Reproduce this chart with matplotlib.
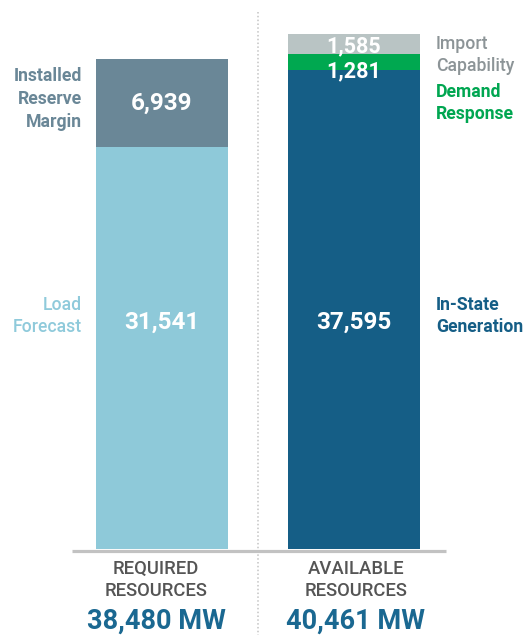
import matplotlib
matplotlib.use("Agg")
import matplotlib.pyplot as plt

# data (MW)
categories = ["REQUIRED\nRESOURCES", "AVAILABLE\nRESOURCES"]
required_names = ["Load\nForecast", "Installed\nReserve\nMargin"]
required_vals = [31541, 6939]
available_names = ["In-State\nGeneration", "Demand\nResponse", "Import\nCapability"]
available_vals = [37595, 1281, 1585]

req_colors = ["#8ec9d9", "#6a8797"]
req_text = ["#8fcadb", "#6a8797"]
av_colors = ["#155e86", "#00a850", "#b9c4c4"]
av_text = ["#155e86", "#00a651", "#8c9497"]

W, H = 526, 635
BASE = 549                      # baseline pixel row
PX_PER_MW = 490 / sum(required_vals)

def mw(py):
    """pixel row -> data y"""
    return (BASE - py) / PX_PER_MW

plt.rcParams["font.family"] = ["Roboto", "DejaVu Sans"]
fig = plt.figure(figsize=(W / 100, H / 100), dpi=100)
ax = fig.add_axes([0, (H - BASE) / H, 1, BASE / H])
ax.set_xlim(-162 / 192, 1 + (W - 354) / 192)
ax.set_ylim(0, mw(0))
ax.axis("off")
bw = 132 / 192

# stacked bars
bottom = 0
for v, c in zip(required_vals, req_colors):
    ax.bar(0, v, bw, bottom=bottom, color=c, zorder=2)
    bottom += v
bottom = 0
for v, c in zip(available_vals, av_colors):
    ax.bar(1, v, bw, bottom=bottom, color=c, zorder=2)
    bottom += v

# baseline + separator
ax.plot([(72 - 162) / 192, (446 - 162) / 192], [mw(550.5)] * 2, color="#c2c2c2",
        lw=2.3, solid_capstyle="butt", clip_on=False, zorder=3)
ax.plot([0.5, 0.5], [mw(12), mw(H)], color="#c4c4c4", lw=1.1, ls=(0, (1, 1.5)),
        clip_on=False, zorder=1)

# values inside bars
vfs = 17.5
ax.text(0, required_vals[0] + required_vals[1] / 2, f"{required_vals[1]:,}", ha="center",
        va="center", color="white", fontsize=vfs, fontweight="bold", zorder=4)
ax.text(0, mw(322), f"{required_vals[0]:,}", ha="center", va="center", color="white",
        fontsize=vfs, fontweight="bold", zorder=4)
ax.text(1, mw(322), f"{available_vals[0]:,}", ha="center", va="center", color="white",
        fontsize=vfs, fontweight="bold", zorder=4)
ax.text(1, mw(46), f"{available_vals[2]:,}", ha="center", va="center", color="white",
        fontsize=15.5, fontweight="bold", zorder=4)
ax.text(1, mw(71), f"{available_vals[1]:,}", ha="center", va="center", color="white",
        fontsize=15.5, fontweight="bold", zorder=4)

# side labels
lx_left = (82 - 162) / 192
lx_right = (436 - 162) / 192
lfs = 12.7
ls = 1.33
ax.text(lx_left, mw(99), required_names[1], ha="right", va="center", color=req_text[1],
        fontsize=lfs, fontweight="bold", linespacing=ls)
ax.text(lx_left, mw(316), required_names[0], ha="right", va="center", color=req_text[0],
        fontsize=lfs, fontweight="medium", linespacing=ls)
ax.text(lx_right, mw(55), available_names[2], ha="left", va="center", color=av_text[2],
        fontsize=lfs, fontweight="medium", linespacing=ls)
ax.text(lx_right, mw(103), available_names[1], ha="left", va="center", color=av_text[1],
        fontsize=lfs, fontweight="bold", linespacing=ls)
ax.text(lx_right, mw(316), available_names[0], ha="left", va="center", color=av_text[0],
        fontsize=lfs, fontweight="bold", linespacing=ls)

# bottom category labels + totals
totals = [sum(required_vals), sum(available_vals)]
for i, (cat, tot) in enumerate(zip(categories, totals)):
    x = i - 0.03 if i == 0 else i + 0.01
    ax.text(x, mw(580), cat, ha="center", va="center", color="#555555",
            fontsize=13.3, fontweight="medium", linespacing=1.32, clip_on=False)
    ax.text(x, mw(621), f"{tot:,} MW", ha="center", va="center", color="#1a6891",
            fontsize=19.5, fontweight="bold", clip_on=False)

fig.savefig("out.png", dpi=100)
